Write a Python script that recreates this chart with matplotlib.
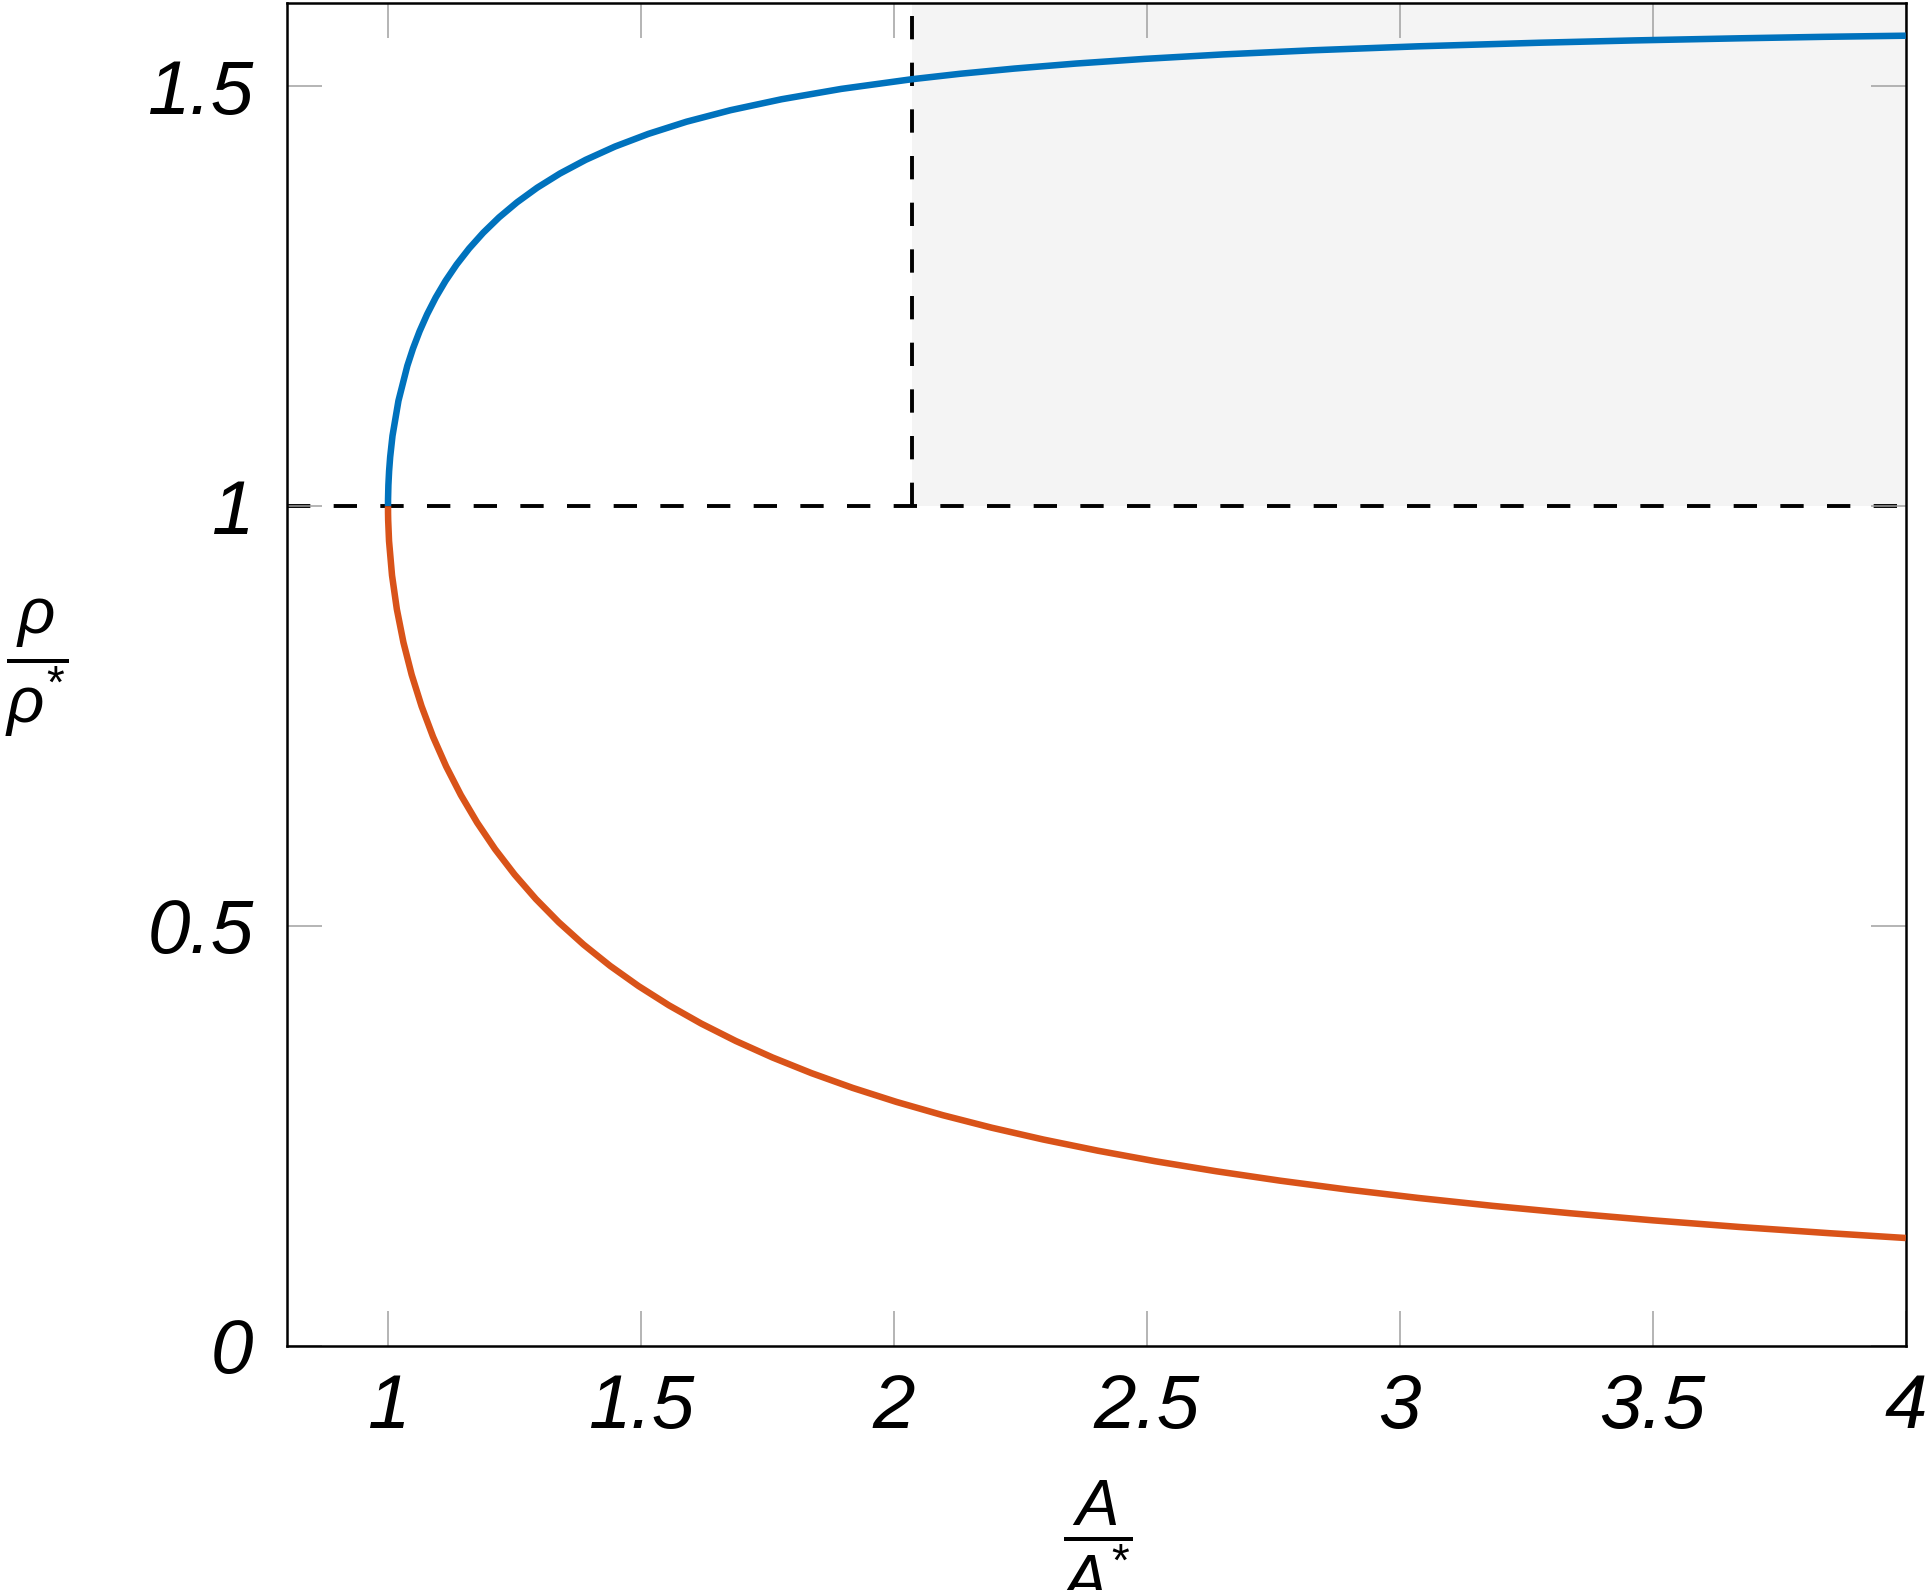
import matplotlib
matplotlib.use("Agg")
import matplotlib.pyplot as plt

# density ratio vs area ratio, isentropic nozzle flow
# subsonic branch (upper, blue)
sub_area = [1.0, 1.00008, 1.00076, 1.00215, 1.00426, 1.00886, 1.02067, 1.03823,
            1.04943, 1.06241, 1.07734, 1.09437, 1.11372, 1.13561, 1.16034,
            1.18819, 1.21959, 1.25498, 1.29482, 1.33984, 1.39081, 1.44867,
            1.51462, 1.59014, 1.67712, 1.77797, 1.89587, 2.03506, 2.13112,
            2.23847, 2.35913, 2.49557, 2.65093, 2.82929, 3.03593, 3.27792,
            3.46351, 3.67274, 3.83575, 4.0]
sub_rho = [1.0, 1.00834, 1.02506, 1.04180, 1.05859, 1.08377, 1.12567, 1.16729,
           1.18792, 1.20837, 1.22864, 1.24867, 1.26843, 1.28789, 1.30701,
           1.32575, 1.34411, 1.36199, 1.37941, 1.39630, 1.41264, 1.42843,
           1.44352, 1.45805, 1.47177, 1.48480, 1.49712, 1.50862, 1.51516,
           1.52136, 1.52729, 1.53289, 1.53821, 1.54317, 1.54784, 1.55216,
           1.55488, 1.55741, 1.55913, 1.56050]

# supersonic branch (lower, orange)
sup_area = [1.0, 1.00008, 1.00033, 1.00203, 1.00793, 1.01745, 1.03044, 1.04675,
            1.06630, 1.08904, 1.11493, 1.14396, 1.17617, 1.21157, 1.25024,
            1.29222, 1.33761, 1.38649, 1.43898, 1.49520, 1.55526, 1.61931,
            1.68750, 1.76000, 1.83694, 1.91854, 2.00497, 2.09643, 2.19313,
            2.29528, 2.40310, 2.51683, 2.63672, 2.76301, 2.89598, 3.03588,
            3.18301, 3.33766, 3.50012, 3.67072, 3.84977, 4.0]
sup_rho = [1.0, 0.99167, 0.98336, 0.95854, 0.91759, 0.87732, 0.83784, 0.79929,
           0.76176, 0.72530, 0.69001, 0.65592, 0.62307, 0.59147, 0.56115,
           0.53209, 0.50429, 0.47776, 0.45242, 0.42833, 0.40540, 0.38359,
           0.36289, 0.34325, 0.32463, 0.30701, 0.29033, 0.27454, 0.25962,
           0.24552, 0.23221, 0.21961, 0.20775, 0.19652, 0.18594, 0.17595,
           0.16654, 0.15765, 0.14926, 0.14136, 0.13390, 0.12820]

# reference lines / incompressible region (M < 0.3)
rho_ref = 1.0
area_incomp = 2.035

x_lim = (0.8, 4.0)
y_lim = (0.0, 1.6)
x_ticks = [1, 1.5, 2, 2.5, 3, 3.5, 4]
x_tick_labels = ['1', '1.5', '2', '2.5', '3', '3.5', '4']
y_ticks = [0, 0.5, 1, 1.5]
y_tick_labels = ['0', '0.5', '1', '1.5']

plt.rcParams['font.family'] = ['Liberation Sans', 'DejaVu Sans']
plt.rcParams['mathtext.fontset'] = 'custom'
plt.rcParams['mathtext.it'] = 'Liberation Sans:italic'
plt.rcParams['mathtext.rm'] = 'Liberation Sans'

fig = plt.figure(figsize=(19.25, 15.9), dpi=100)
ax = fig.add_axes([0.149, 0.1537, 0.841, 0.8447])

blue = '#0072bd'
orange = '#d95319'

ax.fill_between([area_incomp, x_lim[1]], rho_ref, y_lim[1], color='#f4f4f4',
                lw=0, zorder=0)
ax.axhline(rho_ref, color='black', lw=2.8, dashes=(6, 6), zorder=1)
ax.vlines(area_incomp, rho_ref, y_lim[1], color='black', lw=2.8,
          linestyles=(0, (6, 6)), zorder=1)

ax.plot(sub_area, sub_rho, color=blue, lw=4.7, zorder=3, solid_capstyle='butt')
ax.plot(sup_area, sup_rho, color=orange, lw=4.7, zorder=3, solid_capstyle='butt')

ax.set_xlim(*x_lim)
ax.set_ylim(*y_lim)
ax.set_xticks(x_ticks)
ax.set_xticklabels(x_tick_labels)
ax.set_yticks(y_ticks)
ax.set_yticklabels(y_tick_labels)

ax.tick_params(direction='in', length=25, width=1.1, color='#a0a0a0',
               top=True, right=True, labelsize=55)
ax.tick_params(axis='x', pad=20)
ax.tick_params(axis='y', pad=24)
for lab in ax.get_xticklabels() + ax.get_yticklabels():
    lab.set_fontstyle('italic')

for sp in ax.spines.values():
    sp.set_linewidth(1.8)
    sp.set_color('black')

ax.set_xlabel(r'$\dfrac{A}{A^{*}}$', fontsize=47, va='center')
ax.xaxis.set_label_coords(0.5, -0.145)
ax.set_ylabel(r'$\dfrac{\rho}{\rho^{*}}$', fontsize=47, rotation=0,
              va='center', ha='center')
ax.yaxis.set_label_coords(-0.1545, 0.505)

fig.savefig('out.png', dpi=100)
